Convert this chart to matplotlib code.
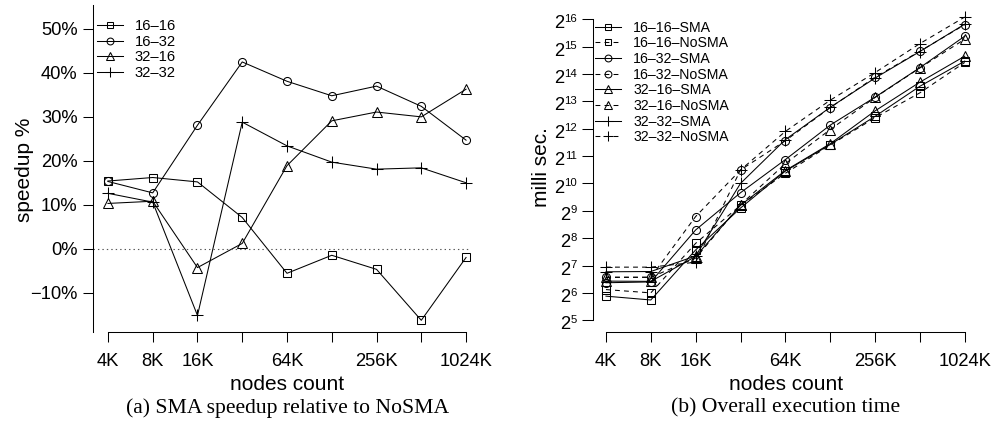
import numpy as np
import matplotlib
matplotlib.use("Agg")
import matplotlib.pyplot as plt
import matplotlib.transforms as mtransforms

plt.rcParams['font.family'] = ['Liberation Sans', 'DejaVu Sans']
plt.rcParams['lines.scale_dashes'] = False

# ---------------- data ----------------
node_labels = ["4K", "8K", "16K", "32K", "64K", "128K", "256K", "512K", "1024K"]
node_k = [4, 8, 16, 32, 64, 128, 256, 512, 1024]
shown_labels = ["4K", "8K", "16K", "", "64K", "", "256K", "", "1024K"]

# (a) speedup %
speedup_16_16 = [15.4, 16.2, 15.2, 7.1, -5.6, -1.5, -4.7, -16.3, -2.0]
speedup_16_32 = [15.3, 12.7, 28.1, 42.5, 38.1, 34.8, 37.0, 32.4, 24.7]
speedup_32_16 = [10.3, 10.8, -4.3, 1.2, 18.9, 29.1, 31.1, 30.0, 36.3]
speedup_32_32 = [12.6, 10.6, -15.2, 28.8, 23.4, 19.7, 18.1, 18.4, 15.0]
speedup_labels = ["16\u201316", "16\u201332", "32\u201316", "32\u201332"]

# (b) execution time, log2(milli sec.)
log2ms_16_16_sma = [5.88, 5.74, 7.57, 9.10, 10.45, 11.42, 12.45, 13.55, 14.47]
log2ms_16_16_nosma = [6.12, 6.00, 7.81, 9.20, 10.37, 11.40, 12.40, 13.31, 14.42]
log2ms_16_32_sma = [6.37, 6.40, 8.30, 9.66, 10.87, 12.13, 13.15, 14.23, 15.38]
log2ms_16_32_nosma = [6.57, 6.57, 8.79, 10.49, 11.56, 12.77, 13.88, 14.83, 15.80]
log2ms_32_16_sma = [6.43, 6.42, 7.33, 9.20, 10.47, 11.45, 12.65, 13.70, 14.65]
log2ms_32_16_nosma = [6.57, 6.57, 7.27, 9.22, 10.72, 11.97, 13.14, 14.22, 15.27]
log2ms_32_32_sma = [6.77, 6.78, 7.35, 10.00, 11.60, 12.78, 13.85, 14.82, 15.82]
log2ms_32_32_nosma = [6.94, 6.94, 7.12, 10.49, 11.90, 13.04, 14.05, 15.11, 16.08]
time_labels = ["16\u201316\u2013SMA", "16\u201316\u2013NoSMA", "16\u201332\u2013SMA", "16\u201332\u2013NoSMA",
               "32\u201316\u2013SMA", "32\u201316\u2013NoSMA", "32\u201332\u2013SMA", "32\u201332\u2013NoSMA"]

speedup_ticks = [-10, 0, 10, 20, 30, 40, 50]
exp_ticks = list(range(5, 17))

# ---------------- layout ----------------
W, H = 997, 426
fig = plt.figure(figsize=(W / 100, H / 100), dpi=100)

def rect(l, r, t, b):
    return [l / W, 1 - b / H, (r - l) / W, (b - t) / H]

markers = ['s', 'o', '^', '+']
msizes = [5.6, 5.8, 7.0, 8.5]
lw = 0.75
TICK_FS = 13.2
tick_kw = dict(direction='out', length=7, width=0.75, labelsize=TICK_FS, colors='black')

# ---------- panel (a) ----------
axa = fig.add_axes(rect(93, 481, 5, 332))
axa.set_xscale('log', base=2)
axa.set_xlim(4 * 2 ** -0.334, 1024 * 2 ** 0.334)
axa.set_ylim(-18.96, 55.46)
series_a = [speedup_16_16, speedup_16_32, speedup_32_16, speedup_32_32]
for vals, m, ms, lab in zip(series_a, markers, msizes, speedup_labels):
    axa.plot(node_k, vals, color='black', lw=lw, marker=m, ms=ms, mfc='none',
             mec='black', mew=0.75, label=lab)
axa.axhline(0, xmin=0, xmax=0.97, color='#555555', lw=0.8, ls=(0, (1, 2.2)))
for s in ['top', 'right']:
    axa.spines[s].set_visible(False)
axa.spines['left'].set_linewidth(0.75)
axa.spines['bottom'].set_linewidth(0.75)
axa.spines['bottom'].set_bounds(4, 1024)
axa.set_xticks(node_k)
axa.set_xticklabels(shown_labels)
axa.xaxis.set_minor_locator(matplotlib.ticker.NullLocator())
axa.set_yticks(speedup_ticks)
axa.set_yticklabels([f"{v}%".replace('-', '\u2212') for v in speedup_ticks])
axa.tick_params(axis='x', pad=8, **tick_kw)
axa.tick_params(axis='y', pad=4, **tick_kw)
lega = axa.legend(loc='upper left', bbox_to_anchor=(96.7 / W, 1 - 19.5 / H),
                  bbox_transform=fig.transFigure, frameon=False, fontsize=10.6,
                  borderpad=0, borderaxespad=0, handlelength=1.8, handletextpad=0.8,
                  labelspacing=0.1, markerscale=0.85)

# ---------- panel (b) ----------
axb = fig.add_axes(rect(592.7, 978, 5, 332))
axb.set_xscale('log', base=2)
axb.set_yscale('log', base=2)
axb.set_xlim(4 * 2 ** -0.296, 1024 * 2 ** 0.296)
axb.set_ylim(2 ** 4.57, 2 ** 16.52)
series_b = [log2ms_16_16_sma, log2ms_16_16_nosma, log2ms_16_32_sma, log2ms_16_32_nosma,
            log2ms_32_16_sma, log2ms_32_16_nosma, log2ms_32_32_sma, log2ms_32_32_nosma]
for i, (vals, lab) in enumerate(zip(series_b, time_labels)):
    m = markers[i // 2]
    ms = msizes[i // 2]
    dashed = (i % 2 == 1)
    axb.plot(node_k, 2 ** np.array(vals), color='black', lw=lw,
             ls=(0, (3.5, 3.0)) if dashed else '-',
             marker=m, ms=ms, mfc='none', mec='black', mew=0.75, label=lab)
for s in ['top', 'right']:
    axb.spines[s].set_visible(False)
axb.spines['left'].set_linewidth(0.75)
axb.spines['bottom'].set_linewidth(0.75)
axb.spines['bottom'].set_bounds(4, 1024)
axb.spines['left'].set_bounds(2 ** 5, 2 ** 16)
axb.set_xticks(node_k)
axb.set_xticklabels(shown_labels)
axb.xaxis.set_minor_locator(matplotlib.ticker.NullLocator())
axb.set_yticks([2.0 ** e for e in exp_ticks])
axb.set_yticklabels([])
axb.yaxis.set_minor_locator(matplotlib.ticker.NullLocator())
axb.tick_params(axis='x', pad=8, **tick_kw)
axb.tick_params(axis='y', direction='out', length=8, width=0.75, colors='black')

# power-of-two tick labels: base "2" with small superscript exponent
BASE_FS, EXP_FS = 13.2, 8.2
ytrans = axb.get_yaxis_transform()
right_pt = -11.3          # right edge of label relative to spine, points
for e in exp_ticks:
    es = str(e)
    ew = len(es) * 0.556 * EXP_FS
    t_exp = mtransforms.offset_copy(ytrans, fig=fig, x=right_pt, y=-1.9, units='points')
    axb.text(0, 2.0 ** e, es, transform=t_exp, ha='right', va='baseline',
             fontsize=EXP_FS, clip_on=False)
    t_base = mtransforms.offset_copy(ytrans, fig=fig, x=right_pt - ew, y=-6.6, units='points')
    axb.text(0, 2.0 ** e, "2", transform=t_base, ha='right', va='baseline',
             fontsize=BASE_FS, clip_on=False)

legb = axb.legend(loc='upper left', bbox_to_anchor=(595 / W, 1 - 20.5 / H),
                  bbox_transform=fig.transFigure, frameon=False, fontsize=10.2,
                  borderpad=0, borderaxespad=0, handlelength=1.85, handletextpad=0.85,
                  labelspacing=0.12, markerscale=0.85)

# ---------- labels ----------
fig.text(287.5 / W, 1 - 385 / H, "nodes count", ha='center', va='center', fontsize=15)
fig.text(786 / W, 1 - 385 / H, "nodes count", ha='center', va='center', fontsize=15)
fig.text(24 / W, 1 - 170 / H, "speedup %", ha='center', va='center', rotation=90, fontsize=15)
fig.text(541.7 / W, 1 - 167 / H, "milli sec.", ha='center', va='center', rotation=90, fontsize=15)
fig.text(287.5 / W, 1 - 408 / H, "(a) SMA speedup relative to NoSMA", ha='center', va='center',
         fontsize=15.6, family=['Liberation Serif', 'DejaVu Serif'])
fig.text(785.5 / W, 1 - 408 / H, "(b) Overall execution time", ha='center', va='center',
         fontsize=15.6, family=['Liberation Serif', 'DejaVu Serif'])

fig.savefig("out.png", dpi=100)
